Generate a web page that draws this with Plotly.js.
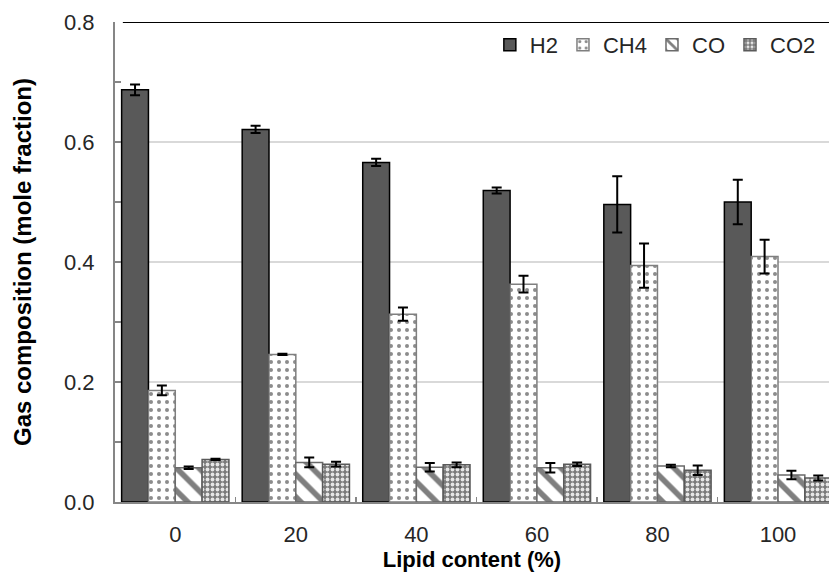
<!DOCTYPE html>
<html>
<head>
<meta charset="utf-8">
<script src="https://cdn.plot.ly/plotly-3.0.1.min.js"></script>
<style>html,body{margin:0;padding:0;background:#fff;}#chart{width:829px;height:577px;}</style>
</head>
<body>
<div id="chart"></div>
<script>
const categories = ['0', '20', '40', '60', '80', '100'];
const seriesNames = ['H2', 'CH4', 'CO', 'CO2'];
const h2 = [0.687, 0.621, 0.566, 0.519, 0.496, 0.500];
const h2Err = [0.009, 0.006, 0.006, 0.005, 0.047, 0.037];
const ch4 = [0.186, 0.246, 0.313, 0.363, 0.394, 0.409];
const ch4Err = [0.008, 0.001, 0.011, 0.014, 0.037, 0.028];
const co = [0.057, 0.066, 0.058, 0.057, 0.060, 0.045];
const coErr = [0.002, 0.008, 0.007, 0.008, 0.002, 0.007];
const co2 = [0.071, 0.063, 0.062, 0.063, 0.053, 0.040];
const co2Err = [0.001, 0.004, 0.004, 0.003, 0.008, 0.004];
const yTicks = [0, 0.2, 0.4, 0.6, 0.8];

const font = 'Liberation Sans, Arial, sans-serif';
const errStyle = (arr) => ({type: 'data', array: arr, visible: true, color: '#000', thickness: 2, width: 5});

const traces = [
  {type: 'bar', name: seriesNames[0], x: categories, y: h2, error_y: errStyle(h2Err),
   marker: {color: '#595959', line: {color: '#000', width: 1.5}}},
  {type: 'bar', name: seriesNames[1], x: categories, y: ch4, error_y: errStyle(ch4Err),
   marker: {color: '#ffffff', line: {color: '#7f7f7f', width: 1.5},
            pattern: {shape: '.', fgcolor: '#8c8c8c', bgcolor: '#ffffff', size: 8, solidity: 0.2, fillmode: 'replace'}}},
  {type: 'bar', name: seriesNames[2], x: categories, y: co, error_y: errStyle(coErr),
   marker: {color: '#ffffff', line: {color: '#6a6a6a', width: 1.5},
            pattern: {shape: '\\', fgcolor: '#7f7f7f', bgcolor: '#ffffff', size: 16, solidity: 0.35, fillmode: 'replace'}}},
  {type: 'bar', name: seriesNames[3], x: categories, y: co2, error_y: errStyle(co2Err),
   marker: {color: '#7a7a7a', line: {color: '#5a5a5a', width: 1.5},
            pattern: {shape: '.', fgcolor: '#e6e6e6', bgcolor: '#7a7a7a', size: 5, solidity: 0.45, fillmode: 'replace'}}}
];

const layout = {
  width: 829, height: 577,
  margin: {l: 115, r: 0, t: 22, b: 75},
  paper_bgcolor: '#fff', plot_bgcolor: '#fff',
  font: {family: font, size: 22, color: '#262626'},
  barmode: 'group', bargap: 0.11, bargroupgap: 0,
  showlegend: true,
  legend: {orientation: 'h', x: 0.525, y: 0.952, xanchor: 'left', yanchor: 'middle',
           font: {family: font, size: 22, color: '#262626'}, itemwidth: 30, bgcolor: 'rgba(0,0,0,0)', tracegroupgap: 0},
  xaxis: {type: 'category', categoryorder: 'array', categoryarray: categories,
          range: [-0.5, 5.423], showline: true, linecolor: '#868686', linewidth: 2,
          ticks: 'inside', tickson: 'boundaries', ticklen: 5, tickcolor: '#868686', tickwidth: 1.5,
          ticklabelstandoff: 12, tickfont: {family: font, size: 22, color: '#262626'},
          showgrid: false, zeroline: false, automargin: true,
          title: {text: '<b>Lipid content (%)</b>', font: {family: font, size: 22, color: '#000'}, standoff: 0}},
  yaxis: {range: [0, 0.8], tickvals: yTicks, tickformat: '.1f', showline: true, linecolor: '#868686', linewidth: 2,
          ticks: 'inside', ticklen: 6, tickcolor: '#868686', tickwidth: 1.5,
          minor: {dtick: 0.1, ticks: 'inside', ticklen: 6, tickcolor: '#868686', tickwidth: 1.5, showgrid: false},
          showgrid: true, gridcolor: '#d9d9d9', gridwidth: 1.5, zeroline: false,
          ticklabelstandoff: 14, tickfont: {family: font, size: 22, color: '#262626'}, automargin: true,
          title: {text: '<b>Gas composition (mole fraction)</b>', font: {family: font, size: 24, color: '#000'}, standoff: 26}},
  shapes: [
    {type: 'line', xref: 'paper', yref: 'y', x0: 0.011, x1: 1, y0: 0.8, y1: 0.8, line: {color: '#000', width: 2}}
  ]
};

Plotly.newPlot('chart', traces, layout, {displayModeBar: false, staticPlot: true});
</script>
</body>
</html>
